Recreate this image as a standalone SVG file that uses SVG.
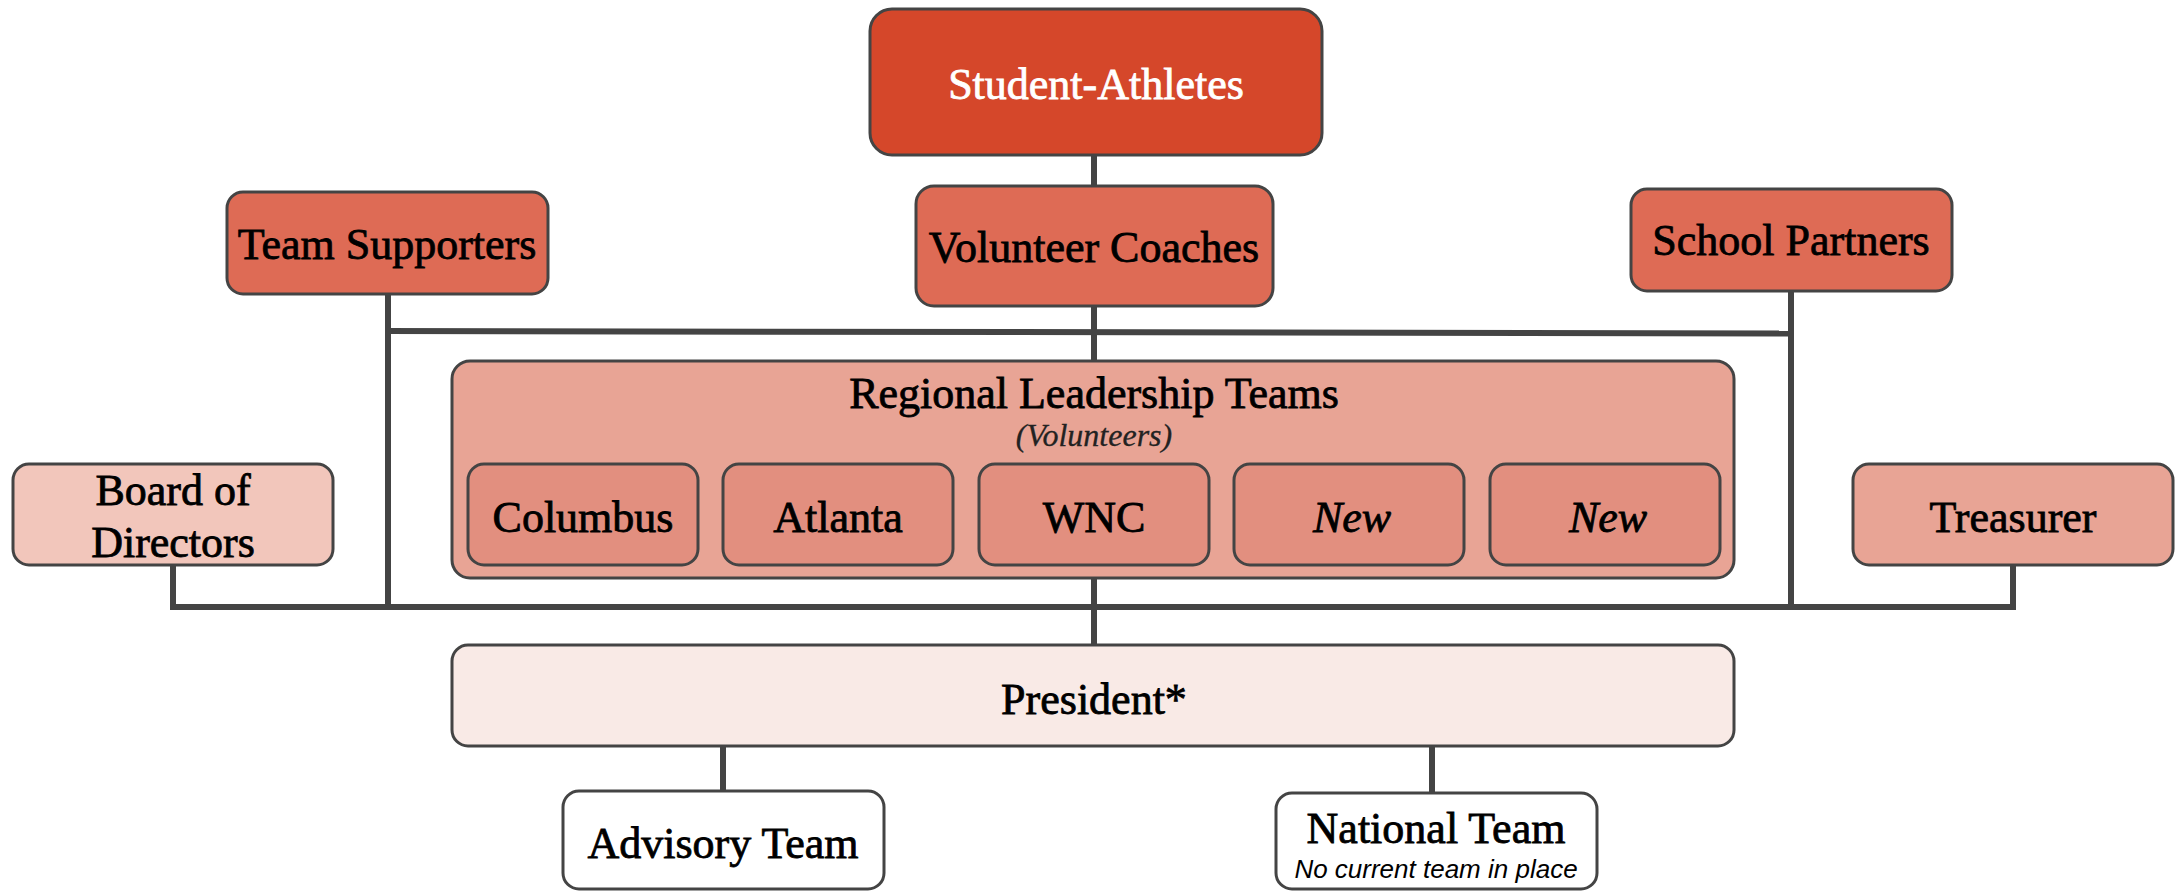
<svg xmlns="http://www.w3.org/2000/svg" width="2177" height="892" viewBox="0 0 2177 892">
<style>
  .box{stroke:#444;stroke-width:3}
  .t{font-family:"Liberation Serif","DejaVu Serif",serif;font-size:44px;text-anchor:middle;fill:#000;stroke:#000;stroke-width:0.8}
  .w{fill:#fff;stroke:#fff}
  .it{font-style:italic}
  .sub{font-family:"Liberation Serif","DejaVu Serif",serif;font-size:32px;font-style:italic;text-anchor:middle;fill:#222;stroke:#222;stroke-width:0.3}
  .note{font-family:"Liberation Sans",Arial,sans-serif;font-size:26px;font-style:italic;text-anchor:middle;fill:#000}
  .ln{stroke:#444;stroke-width:6;fill:none}
</style>
<rect width="2177" height="892" fill="#fff"/>
<g id="connectors">
  <line class="ln" x1="1094" y1="154" x2="1094" y2="187"/>
  <line class="ln" x1="1094" y1="304" x2="1094" y2="362"/>
  <line class="ln" x1="385" y1="331" x2="1794" y2="333.5"/>
  <line class="ln" x1="388" y1="292" x2="388" y2="610"/>
  <line class="ln" x1="1791" y1="289" x2="1791" y2="610"/>
  <polyline class="ln" points="173,564 173,607 2013,607 2013,564"/>
  <line class="ln" x1="1094" y1="576" x2="1094" y2="646"/>
  <line class="ln" x1="723" y1="745" x2="723" y2="792"/>
  <line class="ln" x1="1432" y1="745" x2="1432" y2="794"/>
</g>
<g id="student-athletes">
  <rect class="box" x="870" y="9" width="452" height="146" rx="22" fill="#D5472A"/>
  <text class="t w" x="1096" y="99">Student-Athletes</text>
</g>
<g id="team-supporters">
  <rect class="box" x="227" y="192" width="321" height="102" rx="16" fill="#DE6B55"/>
  <text class="t" x="387" y="259">Team Supporters</text>
</g>
<g id="volunteer-coaches">
  <rect class="box" x="916" y="186" width="357" height="120" rx="18" fill="#DE6B55"/>
  <text class="t" x="1094" y="262">Volunteer Coaches</text>
</g>
<g id="school-partners">
  <rect class="box" x="1631" y="189" width="321" height="102" rx="16" fill="#DE6B55"/>
  <text class="t" x="1791" y="255">School Partners</text>
</g>
<g id="regional-leadership-teams">
  <rect class="box" x="452" y="361" width="1282" height="217" rx="18" fill="#E8A495"/>
  <text class="t" x="1094" y="408">Regional Leadership Teams</text>
  <text class="sub" x="1094" y="446">(Volunteers)</text>
</g>
<g id="columbus">
  <rect class="box" x="468" y="464" width="230" height="101" rx="16" fill="#E28F7F"/>
  <text class="t" x="583" y="532">Columbus</text>
</g>
<g id="atlanta">
  <rect class="box" x="723" y="464" width="230" height="101" rx="16" fill="#E28F7F"/>
  <text class="t" x="838" y="532">Atlanta</text>
</g>
<g id="wnc">
  <rect class="box" x="979" y="464" width="230" height="101" rx="16" fill="#E28F7F"/>
  <text class="t" x="1094" y="532">WNC</text>
</g>
<g id="new-1">
  <rect class="box" x="1234" y="464" width="230" height="101" rx="16" fill="#E28F7F"/>
  <text class="t it" x="1352" y="532">New</text>
</g>
<g id="new-2">
  <rect class="box" x="1490" y="464" width="230" height="101" rx="16" fill="#E28F7F"/>
  <text class="t it" x="1608" y="532">New</text>
</g>
<g id="board-of-directors">
  <rect class="box" x="13" y="464" width="320" height="101" rx="16" fill="#F2C6BB"/>
  <text class="t" x="173" y="505">Board of</text>
  <text class="t" x="173" y="557">Directors</text>
</g>
<g id="treasurer">
  <rect class="box" x="1853" y="464" width="320" height="101" rx="16" fill="#E8A495"/>
  <text class="t" x="2013" y="532">Treasurer</text>
</g>
<g id="president">
  <rect class="box" x="452" y="645" width="1282" height="101" rx="16" fill="#F9EAE6"/>
  <text class="t" x="1094" y="714">President*</text>
</g>
<g id="advisory-team">
  <rect class="box" x="563" y="791" width="321" height="98" rx="16" fill="#fff"/>
  <text class="t" x="723" y="858">Advisory Team</text>
</g>
<g id="national-team">
  <rect class="box" x="1276" y="793" width="321" height="96" rx="16" fill="#fff"/>
  <text class="t" x="1436" y="843">National Team</text>
  <text class="note" x="1436" y="878">No current team in place</text>
</g>
</svg>
